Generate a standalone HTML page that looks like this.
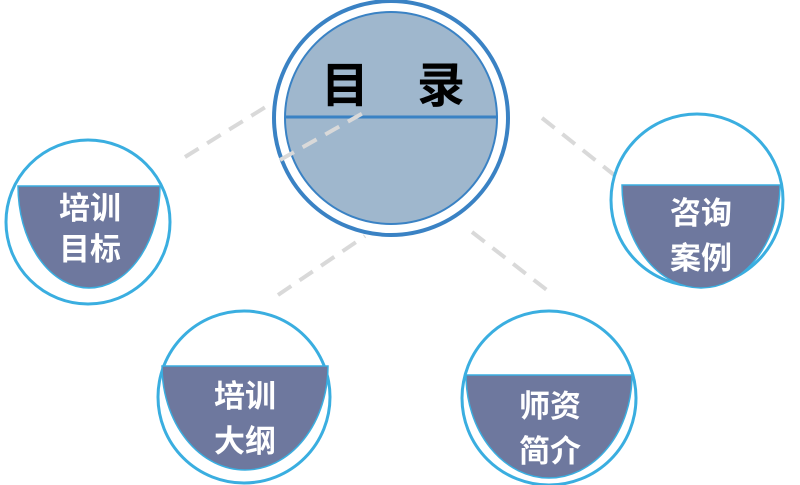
<!DOCTYPE html>
<html><head><meta charset="utf-8"><style>
body{margin:0;width:800px;height:485px;background:#fff;overflow:hidden}
svg{display:block}
text{font-family:"Liberation Sans","Noto Sans CJK SC",sans-serif;font-weight:bold}
</style></head><body>
<svg width="800" height="485" viewBox="0 0 800 485">
<g stroke="#d9d9d9" stroke-width="4" stroke-dasharray="16 10" fill="none">
<line x1="185" y1="157" x2="272" y2="103"/>
<line x1="278" y1="295" x2="365" y2="236"/>
<line x1="472" y1="232" x2="552" y2="294"/>
<line x1="542" y1="118" x2="618" y2="178"/>
</g>
<circle cx="391" cy="118" r="117" fill="#fff" stroke="#3a82c4" stroke-width="4"/>
<circle cx="391" cy="118" r="106" fill="#9fb7cd" stroke="#3a82c4" stroke-width="2"/>
<line x1="285" y1="117" x2="498" y2="117" stroke="#3a82c4" stroke-width="3"/>
<line x1="280" y1="160" x2="365" y2="112" stroke="#d9d9d9" stroke-width="4" stroke-dasharray="16 10"/>
<text x="345" y="102" font-size="48" text-anchor="middle" fill="#000">目</text>
<text x="441" y="102" font-size="48" text-anchor="middle" fill="#000">录</text>
<g fill="#fff" stroke="#3aaee0" stroke-width="3">
<circle cx="88" cy="222" r="82"/>
<circle cx="697" cy="200" r="86"/>
<circle cx="244" cy="397" r="86"/>
<circle cx="549" cy="398" r="87"/>
</g>
<g fill="#6e789e" stroke="#3aaee0" stroke-width="1.5">
<path d="M18 186 H160 A71 102 0 0 1 18 186 Z"/>
<path d="M622 185 H780 A79 103 0 0 1 622 185 Z"/>
<path d="M162 366 H328 A83 104 0 0 1 162 366 Z"/>
<path d="M466 375 H632 A83 103 0 0 1 466 375 Z"/>
</g>
<g fill="#fff" font-size="31" text-anchor="middle">
<text x="90" y="219">培训</text><text x="90" y="260">目标</text>
<text x="701" y="224">咨询</text><text x="701" y="269">案例</text>
<text x="245" y="407">培训</text><text x="245" y="452">大纲</text>
<text x="550" y="417">师资</text><text x="550" y="462">简介</text>
</g>
</svg>
</body></html>
